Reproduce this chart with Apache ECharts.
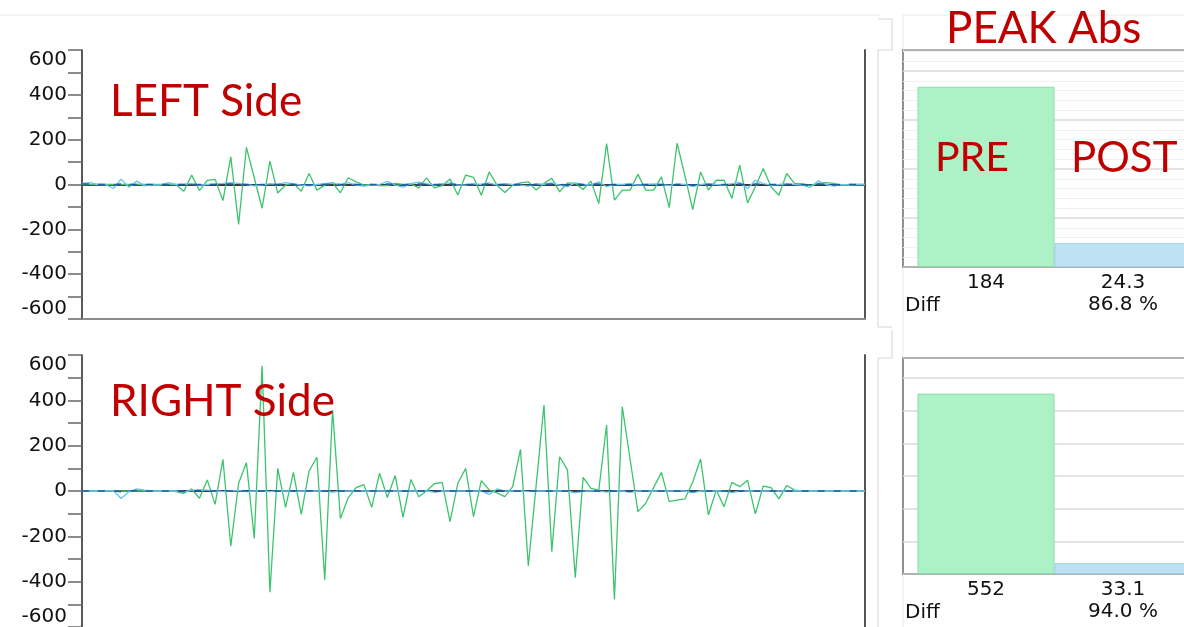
<!DOCTYPE html>
<html><head><meta charset="utf-8">
<script src="https://cdn.jsdelivr.net/npm/echarts@6/dist/echarts.min.js"></script>
<style>html,body{margin:0;padding:0;background:#fff;overflow:hidden}#c{width:1184px;height:627px}</style>
</head><body><div id="c"></div><script>
// ---- data ----
const yTicks = [-600, -400, -200, 0, 200, 400, 600];
const panelTitles = ['LEFT Side', 'RIGHT Side'];
const barTitle = 'PEAK Abs';
const barNames = ['PRE', 'POST'];
const diffLabel = 'Diff';

const leftPre = [
0,0,0,0,0,0,0,0,0,0,
0,0,0,-30,42,-27,18,23,-72,123,
-178,166,30,-106,104,-38,-2,5,-30,49,
-25,-3,8,-37,30,12,-3,0,-5,-5,
5,0,3,-15,30,-15,-5,25,-47,42,
32,-48,56,-3,-36,-3,7,12,-25,5,
28,-33,7,5,-22,15,-85,183,-70,-25,
-25,45,-25,-25,34,-103,184,40,-112,56,
-25,19,19,-62,86,-82,-10,71,-10,-48,
49,5,3,-5,5,8,5,-3,0,0,
0];
const leftPost = [
5,8,0,0,-18,24,-12,15,-6,-2,
-3,8,0,2,5,-3,0,3,5,8,
5,0,-6,-3,4,0,8,3,-3,-6,
0,4,8,-3,8,-3,-7,-3,0,14,
-3,-12,4,10,4,-3,4,7,-3,-3,
4,0,7,-3,4,0,-3,-7,4,0,
7,-3,-10,7,0,-3,12,-10,0,0,
3,-3,0,3,0,-5,3,0,-10,0,
4,0,-3,4,9,-18,19,4,-3,0,
4,0,-3,-13,16,0,-7,0,-3,0,
0];
const leftTrend = [
2,2,0,0,-2,2,0,0,0,0,
0,0,0,0,0,0,0,0,2,2,
0,0,-2,0,0,0,2,0,0,-2,
0,0,2,0,2,0,-2,0,0,2,
0,-2,0,2,0,0,0,2,0,0,
0,0,2,0,0,0,0,-2,0,0,
2,0,-2,2,0,0,2,-2,0,0,
0,0,0,0,0,-2,0,0,-2,0,
0,0,0,0,2,-2,2,0,0,0,
0,0,0,-2,2,0,-2,0,0,0,
0];
const rightPre = [
0,0,0,0,0,0,0,0,0,0,
0,0,-3,-10,9,-32,49,-59,140,-243,
34,125,-209,552,-447,100,-72,82,-103,88,
149,-393,357,-121,-30,15,28,-72,78,-29,
68,-116,51,-25,0,32,38,-135,34,100,
-113,46,5,-8,-25,19,184,-331,25,379,
-268,151,93,-382,60,12,4,291,-478,372,
140,-91,-54,15,82,-47,-40,-35,40,141,
-106,4,-69,38,19,47,-101,22,15,-35,
24,4,0,0,0,0,0,0,0,0,
0];
const rightPost = [
0,0,0,0,2,-33,-3,9,4,0,
0,0,0,-5,3,5,4,0,-3,0,
3,-3,0,0,-3,0,0,-3,0,0,
0,0,-5,0,0,0,0,0,0,0,
0,0,0,0,0,-5,0,0,0,0,
0,0,-15,9,0,0,0,-3,0,0,
0,0,0,-8,0,0,0,-5,0,0,
-5,0,0,0,0,0,0,0,-7,0,
0,0,0,-7,0,0,0,0,0,0,
0,0,0,0,0,0,0,0,0,0,
0];
const rightTrend = [
0,0,0,0,0,-3,0,2,0,0,
0,0,0,-2,0,2,0,0,0,0,
0,0,0,0,0,0,0,0,0,0,
0,0,-2,0,0,0,0,0,0,0,
0,0,0,0,0,-2,0,0,0,0,
0,0,-3,2,0,0,0,0,0,0,
0,0,0,-2,0,0,0,-2,0,0,
-2,0,0,0,0,0,0,0,-2,0,
0,0,0,-2,0,0,0,0,0,0,
0,0,0,0,0,0,0,0,0,0,
0];
const leftPeak = [184, 24.3];
const rightPeak = [552, 33.1];

// ---- style ----
const GREEN = '#3cc46c', BLUE = '#6ac3ee', DARKBLUE = '#1d5ea6', RED = '#c00000';
const TXT = '#111';
const pairs = a => a.map((v, i) => [i, v]);
const fmt = v => String(v);
const pct = (a) => ((a[0] - a[1]) / a[0] * 100).toFixed(1) + ' %';

function lineGrid(top, height) { return { left: 82, top: top, width: 783, height: height, outerBoundsMode: 'none', containLabel: false }; }
function barGrid(top, height) { return { left: 903, top: top, width: 303, height: height, show: true, borderColor: '#3a3a3a', borderWidth: 2, outerBoundsMode: 'none', containLabel: false }; }

function zeroX(g) {
  return { gridIndex: g, type: 'value', min: 0, max: 100, position: 'bottom',
    axisLine: { show: true, onZero: true, lineStyle: { color: '#3c3c3c', width: 2 } },
    axisTick: { show: false }, axisLabel: { show: false }, splitLine: { show: false } };
}
function borderX(g) {
  return { gridIndex: g, type: 'value', min: 0, max: 100, position: 'bottom',
    axisLine: { show: true, onZero: false, lineStyle: { color: '#8c8c8c', width: 2 } },
    axisTick: { show: false }, axisLabel: { show: false }, splitLine: { show: false } };
}
function leftY(g) {
  return { gridIndex: g, type: 'value', min: yTicks[0], max: yTicks[yTicks.length - 1], interval: yTicks[1] - yTicks[0], position: 'left',
    axisLine: { show: true, onZero: false, lineStyle: { color: '#222', width: 1.5 } },
    axisTick: { show: true, length: 14, lineStyle: { color: '#666', width: 1.5 } },
    minorTick: { show: true, splitNumber: 2, length: 14, lineStyle: { color: '#666', width: 1.5 } },
    axisLabel: { margin: 15, fontFamily: 'DejaVu Sans', fontSize: 20, color: TXT,
      verticalAlignMaxLabel: 'top', verticalAlignMinLabel: 'bottom' },
    splitLine: { show: false } };
}
function rightY(g) {
  return { gridIndex: g, type: 'value', min: yTicks[0], max: yTicks[yTicks.length - 1], position: 'right',
    axisLine: { show: true, onZero: false, lineStyle: { color: '#555', width: 2 } },
    axisTick: { show: false }, axisLabel: { show: false }, splitLine: { show: false } };
}
function catX(g) {
  return { gridIndex: g, type: 'category', data: [barTitle], axisLine: { show: false }, axisTick: { show: false }, axisLabel: { show: false } };
}
function barY(g, max, interval, minor) {
  return { gridIndex: g, type: 'value', min: 0, max: max, interval: interval,
    axisLine: { show: false }, axisTick: { show: false }, axisLabel: { show: false },
    splitLine: { show: true, lineStyle: { color: '#dadada', width: 1.5 } },
    minorTick: { show: false, splitNumber: 5 },
    minorSplitLine: { show: minor, lineStyle: { color: '#f1f1f1', width: 1 } } };
}
function lines(xi, yi, pre, post, trend) {
  return [
    { type: 'line', xAxisIndex: xi, yAxisIndex: yi, name: 'PRE', data: pairs(pre), showSymbol: false, symbol: 'none',
      lineStyle: { color: GREEN, width: 1.3 }, z: 2 },
    { type: 'line', xAxisIndex: xi, yAxisIndex: yi, name: 'POST', data: pairs(post), showSymbol: false, symbol: 'none',
      lineStyle: { color: BLUE, width: 1.3 }, z: 3 },
    { type: 'line', xAxisIndex: xi, yAxisIndex: yi, name: 'POST avg', data: pairs(trend), showSymbol: false, symbol: 'none',
      lineStyle: { color: DARKBLUE, width: 1.6, type: [7, 9] }, z: 4 }
  ];
}
function bars(xi, yi, peak) {
  const lab = { show: true, position: 'bottom', distance: 5, fontFamily: 'DejaVu Sans', fontSize: 20, lineHeight: 22, color: TXT };
  return [
    { type: 'bar', xAxisIndex: xi, yAxisIndex: yi, name: barNames[0], data: [peak[0]], barWidth: 137, barGap: '0%',
      itemStyle: { color: '#adf2c6', borderColor: '#8cdcab', borderWidth: 1 },
      label: Object.assign({}, lab, { formatter: p => fmt(p.value) }) },
    { type: 'bar', xAxisIndex: xi, yAxisIndex: yi, name: barNames[1], data: [peak[1]], barWidth: 137, barGap: '0%',
      itemStyle: { color: '#bee1f3', borderColor: '#a3cfe9', borderWidth: 1 },
      label: Object.assign({}, lab, { formatter: p => fmt(p.value) + '\n' + pct(peak) }) }
  ];
}

const bigFont = { fontFamily: 'Lato', fontSize: 44, fontWeight: 'normal', color: RED };
const smallTxt = { fontFamily: 'DejaVu Sans', fontSize: 20, fill: TXT };

const option = {
  animation: false,
  backgroundColor: '#fff',
  title: [
    { text: panelTitles[0], left: 110, top: 80, padding: 0, textStyle: bigFont },
    { text: panelTitles[1], left: 110, top: 380, padding: 0, textStyle: bigFont },
    { text: barTitle, left: 946, top: 7, padding: 0, textStyle: bigFont },
    { text: barNames[0], left: 935, top: 137, padding: 0, textStyle: Object.assign({}, bigFont, { fontSize: 41 }) },
    { text: barNames[1], left: 1071, top: 137, padding: 0, textStyle: Object.assign({}, bigFont, { fontSize: 42 }) }
  ],
  grid: [lineGrid(50, 269), lineGrid(355, 272), barGrid(50, 217), barGrid(358, 216)],
  xAxis: [zeroX(0), borderX(0), zeroX(1), catX(2), catX(3)],
  yAxis: [leftY(0), rightY(0), leftY(1), rightY(1), barY(2, 221.5, 50, true), barY(3, 661, 100, false)],
  series: [].concat(
    lines(0, 0, leftPre, leftPost, leftTrend),
    lines(2, 2, rightPre, rightPost, rightTrend),
    bars(3, 4, leftPeak),
    bars(4, 5, rightPeak)
  ),
  graphic: [
    { type: 'line', shape: { x1: 0, y1: 15, x2: 880, y2: 15 }, style: { stroke: '#ececec', lineWidth: 1 }, silent: true },
    { type: 'line', shape: { x1: 903, y1: 15, x2: 1184, y2: 15 }, style: { stroke: '#ececec', lineWidth: 1 }, silent: true },
    { type: 'line', shape: { x1: 903, y1: 15, x2: 903, y2: 627 }, style: { stroke: '#e6e6e6', lineWidth: 1 }, silent: true },
    { type: 'polyline', shape: { points: [[878, 19], [892, 19], [892, 50]] }, style: { stroke: '#d6d6d6', lineWidth: 1, fill: null }, silent: true },
    { type: 'polyline', shape: { points: [[892, 50], [878, 50], [878, 327], [892, 327]] }, style: { stroke: '#d6d6d6', lineWidth: 1, fill: null }, silent: true },
    { type: 'polyline', shape: { points: [[892, 330], [892, 358], [878, 358], [878, 627]] }, style: { stroke: '#d6d6d6', lineWidth: 1, fill: null }, silent: true },
    { type: 'text', left: 905, top: 296, style: Object.assign({ text: diffLabel }, smallTxt) },
    { type: 'text', left: 905, top: 603, style: Object.assign({ text: diffLabel }, smallTxt) }
  ]
};
const chart = echarts.init(document.getElementById('c'), null, { renderer: 'canvas' });
chart.setOption(option);
</script></body></html>
